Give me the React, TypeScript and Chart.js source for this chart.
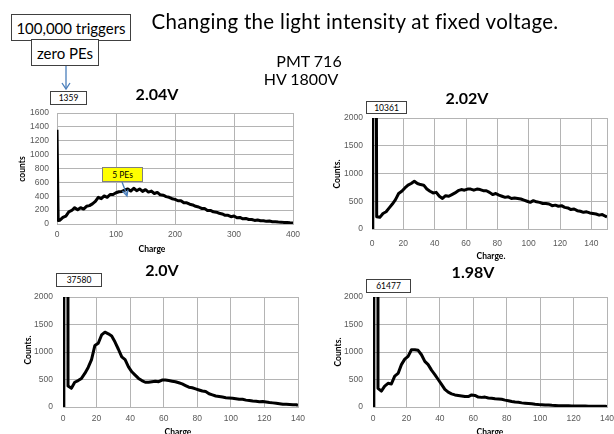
import React, { useEffect, useRef } from "react";
import { Chart, registerables } from "chart.js";
Chart.register(...registerables);

// ---------- data ----------
const chart1X = [0, 2, 5, 10, 15, 20, 25, 30, 35, 40, 45, 50, 55, 60, 65, 70, 75, 80, 85, 90, 95, 100, 105, 110, 115, 120, 125, 130, 135, 140, 145, 150, 155, 160, 165, 170, 175, 180, 185, 190, 195, 200, 205, 210, 215, 220, 225, 230, 235, 240, 245, 250, 255, 260, 265, 270, 275, 280, 285, 290, 295, 300, 305, 310, 315, 320, 325, 330, 335, 340, 345, 350, 355, 360, 365, 370, 375, 380, 385, 390, 395, 400];
const chart1Y = [1359, 50, 55, 95, 115, 175, 195, 235, 205, 235, 215, 255, 265, 290, 325, 385, 365, 405, 385, 425, 425, 450, 465, 470, 490, 505, 475, 515, 480, 505, 470, 495, 460, 475, 440, 455, 420, 415, 395, 385, 365, 355, 335, 335, 305, 305, 285, 275, 255, 245, 225, 225, 195, 195, 175, 170, 155, 145, 125, 125, 105, 115, 90, 95, 75, 80, 65, 65, 52, 58, 47, 48, 38, 42, 33, 32, 28, 27, 23, 22, 18, 16];

const chart2X = [0, 0.5, 2, 3, 5, 7, 9, 11, 13, 15, 17, 19, 21, 23, 25, 27, 29, 31, 33, 35, 37, 39, 41, 43, 45, 47, 49, 51, 53, 55, 57, 59, 61, 63, 65, 67, 69, 71, 73, 75, 77, 79, 81, 83, 85, 87, 89, 91, 93, 95, 97, 99, 101, 103, 105, 107, 109, 111, 113, 115, 117, 119, 121, 123, 125, 127, 129, 131, 133, 135, 137, 139, 141, 143, 145, 147, 149, 150];
const chart2Y = [0, 10361, 10361, 220, 210, 280, 310, 380, 450, 530, 640, 680, 740, 790, 820, 860, 820, 800, 790, 720, 680, 650, 660, 590, 550, 600, 590, 620, 650, 690, 710, 700, 720, 720, 700, 720, 710, 690, 690, 660, 620, 640, 610, 590, 570, 580, 550, 560, 550, 540, 520, 500, 480, 510, 490, 480, 460, 460, 450, 420, 430, 410, 420, 390, 380, 350, 360, 330, 320, 300, 310, 290, 280, 270, 250, 260, 230, 220];

const chart34X = [0, 0.5, 2, 3, 5, 7, 9, 11, 13, 15, 17, 19, 21, 23, 25, 27, 29, 31, 33, 35, 37, 39, 41, 43, 45, 47, 49, 51, 53, 55, 57, 59, 61, 63, 65, 67, 69, 71, 73, 75, 77, 79, 81, 83, 85, 87, 89, 91, 93, 95, 97, 99, 101, 103, 105, 107, 109, 111, 113, 115, 117, 119, 121, 123, 125, 127, 129, 131, 133, 135, 137, 139, 140];
const chart3Y = [0, 37580, 37580, 380, 340, 450, 480, 520, 610, 720, 860, 1120, 1160, 1310, 1360, 1330, 1290, 1180, 1050, 910, 860, 730, 640, 580, 520, 480, 450, 450, 460, 470, 460, 490, 490, 480, 470, 460, 440, 420, 390, 360, 350, 330, 310, 290, 280, 240, 220, 200, 190, 180, 170, 165, 160, 150, 140, 140, 125, 120, 110, 105, 95, 100, 90, 80, 75, 70, 60, 50, 50, 45, 40, 40, 30];
const chart4Y = [0, 61477, 61477, 340, 290, 380, 430, 420, 560, 610, 770, 870, 920, 1040, 1040, 1030, 950, 830, 770, 670, 590, 500, 410, 320, 270, 240, 220, 210, 200, 190, 190, 220, 210, 180, 175, 180, 165, 160, 150, 145, 140, 125, 115, 100, 90, 85, 75, 70, 65, 58, 50, 45, 42, 38, 35, 30, 28, 25, 24, 22, 22, 20, 20, 18, 18, 16, 15, 15, 14, 13, 12, 12, 10];

const ticks1X = [0, 100, 200, 300, 400];
const ticks1Y = [0, 200, 400, 600, 800, 1000, 1200, 1400, 1600];
const ticks2X = [0, 20, 40, 60, 80, 100, 120, 140, 150];
const ticks34X = [0, 20, 40, 60, 80, 100, 120, 140];
const ticksCountY = [0, 500, 1000, 1500, 2000];
const labels2X = [0, 20, 40, 60, 80, 100, 120, 140];

// ---------- rendering ----------
const W = 614;
const H = 434;
const GRID = "#b4b4b4";
const TICK_FONT = { family: "Liberation Sans", size: 8.5 };

type Spec = {
  xs: number[];
  ys: number[];
  xTicks: number[];
  xLabels: number[];
  yTicks: number[];
  xMax: number;
  yMax: number;
  rect: [number, number, number, number];
  xPad: number;
  yPad: number;
};

function ChartLayer({ spec }: { spec: Spec }) {
  const ref = useRef<HTMLCanvasElement>(null);
  useEffect(() => {
    const [l, t, r, b] = spec.rect;
    const YW = 40;
    const XH = 22;
    const chart = new Chart(ref.current as HTMLCanvasElement, {
      type: "line",
      data: {
        datasets: [
          {
            data: spec.xs.map((x, i) => ({ x, y: spec.ys[i] })),
            borderColor: "#000000",
            borderWidth: 3,
            pointRadius: 0,
            tension: 0,
            borderJoinStyle: "round",
            fill: false,
          },
        ],
      },
      options: {
        responsive: false,
        animation: false,
        events: [],
        layout: { padding: { left: l - YW, top: t, right: W - r, bottom: H - b - XH } },
        plugins: { legend: { display: false }, tooltip: { enabled: false } },
        scales: {
          x: {
            type: "linear",
            min: 0,
            max: spec.xMax,
            afterBuildTicks: (s: any) => {
              s.ticks = spec.xTicks.map((v) => ({ value: v }));
            },
            afterFit: (s: any) => {
              s.height = XH;
              s.paddingLeft = 0;
              s.paddingRight = 0;
            },
            grid: { color: GRID, lineWidth: 1, drawTicks: false },
            border: { color: GRID, width: 1 },
            ticks: {
              padding: spec.xPad,
              font: TICK_FONT,
              color: "#595959",
              maxRotation: 0,
              autoSkip: false,
              callback: (v: any) => (spec.xLabels.includes(Number(v)) ? String(v) : ""),
            },
          },
          y: {
            type: "linear",
            min: 0,
            max: spec.yMax,
            afterBuildTicks: (s: any) => {
              s.ticks = spec.yTicks.map((v) => ({ value: v }));
            },
            afterFit: (s: any) => {
              s.width = YW;
              s.paddingTop = 0;
              s.paddingBottom = 0;
            },
            grid: { color: GRID, lineWidth: 1, drawTicks: false },
            border: { color: GRID, width: 1 },
            ticks: {
              padding: spec.yPad,
              font: TICK_FONT,
              color: "#595959",
              autoSkip: false,
              callback: (v: any) => String(v),
            },
          },
        },
      },
    });
    return () => chart.destroy();
  }, []);
  return (
    <canvas
      ref={ref}
      width={W}
      height={H}
      style={{ position: "absolute", left: 0, top: 0, width: W, height: H }}
    />
  );
}

const specs: Spec[] = [
  { xs: chart1X, ys: chart1Y, xTicks: ticks1X, xLabels: ticks1X, yTicks: ticks1Y, xMax: 400, yMax: 1600, rect: [57, 113, 293, 224], xPad: 6, yPad: 8 },
  { xs: chart2X, ys: chart2Y, xTicks: ticks2X, xLabels: labels2X, yTicks: ticksCountY, xMax: 150, yMax: 2000, rect: [372, 118, 607, 229], xPad: 10, yPad: 9 },
  { xs: chart34X, ys: chart3Y, xTicks: ticks34X, xLabels: ticks34X, yTicks: ticksCountY, xMax: 140, yMax: 2000, rect: [63, 297, 298, 407], xPad: 7, yPad: 10 },
  { xs: chart34X, ys: chart4Y, xTicks: ticks34X, xLabels: ticks34X, yTicks: ticksCountY, xMax: 140, yMax: 2000, rect: [373, 297, 607, 407], xPad: 7, yPad: 10 },
];

const HEAD = "Lato, 'Open Sans', sans-serif";

function Txt({ x, y, children, size, bold, rotate, color, spacing }: any) {
  return (
    <div
      style={{
        position: "absolute",
        left: x,
        top: y,
        transform: `translate(-50%, -50%)${rotate ? " rotate(-90deg)" : ""}`,
        fontFamily: HEAD,
        fontSize: size,
        fontWeight: bold ? 700 : 400,
        color: color || "#000",
        whiteSpace: "nowrap",
        lineHeight: 1,
        letterSpacing: spacing || 0,
      }}
    >
      {children}
    </div>
  );
}

function Box({ l, t, w, h, children, size, bg, border, bw }: any) {
  return (
    <div
      style={{
        position: "absolute",
        left: l,
        top: t,
        width: w,
        height: h,
        boxSizing: "border-box",
        border: `${bw || 1}px solid ${border || "#404040"}`,
        background: bg || "#fff",
        fontFamily: HEAD,
        fontSize: size,
        display: "flex",
        alignItems: "center",
        justifyContent: "center",
        whiteSpace: "nowrap",
        color: "#000",
      }}
    >
      {children}
    </div>
  );
}

export default function App() {
  return (
    <div
      style={{
        position: "fixed",
        left: 0,
        top: 0,
        width: W,
        height: H,
        background: "#fff",
        overflow: "hidden",
      }}
    >
      {specs.map((s, i) => (
        <ChartLayer key={i} spec={s} />
      ))}

      <Txt x={355} y={21} size={20.5} spacing={0.3}>Changing the light intensity at fixed voltage.</Txt>
      <Txt x={309} y={61} size={16}>PMT 716</Txt>
      <Txt x={301} y={79} size={16}>HV 1800V</Txt>

      <Box l={11} t={14} w={120} h={27} size={15} bw={1.5}>100,000 triggers</Box>
      <Box l={31} t={39} w={68} h={27} size={15} bw={1.5}>zero PEs</Box>

      <svg width={W} height={H} style={{ position: "absolute", left: 0, top: 0 }}>
        <line x1={66} y1={66} x2={66} y2={88} stroke="#4a7ebb" strokeWidth={1.3} />
        <polyline points="62,83 66,89 70,83" fill="none" stroke="#4a7ebb" strokeWidth={1.3} />
        <line x1={122} y1={182} x2={127} y2={195} stroke="#4a7ebb" strokeWidth={1.3} />
        <polyline points="122.5,191 127,196 128,189.5" fill="none" stroke="#4a7ebb" strokeWidth={1.3} />
      </svg>

      <Box l={50} t={91} w={37} h={14} size={8.5}>1359</Box>
      <Box l={366} t={101} w={41} h={13} size={8.5}>10361</Box>
      <Box l={56} t={273} w={46} h={14} size={8.5}>37580</Box>
      <Box l={366} t={279} w={45} h={14} size={8.5}>61477</Box>

      <Box l={102} t={167} w={41} h={15} size={8.5} bg="#ffff00" border="#7f7f7f">5 PEs</Box>

      <Txt x={157} y={94} size={16} bold>2.04V</Txt>
      <Txt x={467} y={98} size={16} bold>2.02V</Txt>
      <Txt x={162} y={270} size={16} bold>2.0V</Txt>
      <Txt x={473} y={272} size={16} bold>1.98V</Txt>

      <Txt x={22} y={169} size={8.5} bold rotate>counts</Txt>
      <Txt x={337} y={174} size={8.5} bold rotate>Counts.</Txt>
      <Txt x={28} y={350} size={8.5} bold rotate>Counts.</Txt>
      <Txt x={338} y={352} size={8.5} bold rotate>Counts.</Txt>

      <Txt x={152} y={249} size={8.5} bold>Charge</Txt>
      <Txt x={491} y={256} size={8.5} bold>Charge.</Txt>
      <Txt x={178} y={432} size={8.5} bold>Charge</Txt>
      <Txt x={490} y={432} size={8.5} bold>Charge</Txt>
    </div>
  );
}
